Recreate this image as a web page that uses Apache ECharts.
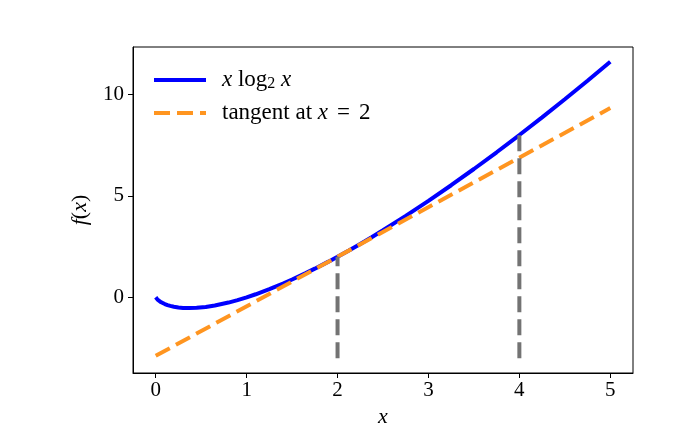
<!DOCTYPE html>
<html>
<head>
<meta charset="utf-8">
<script src="https://cdn.jsdelivr.net/npm/echarts@6/dist/echarts.min.js"></script>
<style>html,body{margin:0;padding:0;background:#fff;}#c{width:696px;height:442px;}</style>
</head>
<body>
<div id="c"></div>
<script>
// Curve x*log2(x), values
const curveX = [0, 0.01, 0.02, 0.04, 0.06, 0.08, 0.1, 0.13, 0.16, 0.2, 0.25, 0.3, 0.37, 0.45, 0.55, 0.65, 0.8, 0.9, 1.0, 1.1, 1.25, 1.4, 1.5, 1.65, 1.75, 1.9, 2.0, 2.125, 2.25, 2.375, 2.5, 2.75, 3.0, 3.25, 3.5, 3.75, 4.0, 4.25, 4.5, 4.75, 5.0];
const curveY = [0, -0.066, -0.113, -0.186, -0.244, -0.292, -0.332, -0.383, -0.423, -0.464, -0.500, -0.521, -0.531, -0.518, -0.474, -0.404, -0.258, -0.137, 0, 0.151, 0.402, 0.680, 0.877, 1.193, 1.413, 1.759, 2.0, 2.311, 2.632, 2.962, 3.305, 4.013, 4.755, 5.526, 6.326, 7.151, 8.0, 8.872, 9.765, 10.678, 11.610];
// Tangent line at x = 2
const tangentX = [0, 5];
const tangentY = [-2.885, 9.329];
// Vertical guide lines
const vlineX = [2, 4];
const vlineBottom = -3;
const vlineTop = [2, 8];
// Ticks
const xTicks = [0, 1, 2, 3, 4, 5];
const yTicks = [0, 5, 10];
const seriesNames = ['curve', 'tangent'];

const zip = (xs, ys) => xs.map((x, i) => [x, ys[i]]);
const FONT = 'Liberation Serif';
const blue = '#0000ff', orange = '#ff9520', gray = '#737373';
const LW = 4, DASH = [16, 7];

const chart = echarts.init(document.getElementById('c'), null, {renderer: 'canvas'});
const vSeries = vlineX.map((x, i) => ({
  type: 'line', name: 'v' + i, data: [[x, vlineBottom], [x, vlineTop[i]]],
  symbol: 'none', silent: true, z: 4,
  lineStyle: {color: gray, width: LW, type: DASH}
}));
chart.setOption({
  animation: false,
  grid: {left: 133, top: 47, right: 63, bottom: 69, show: true, borderColor: '#000', borderWidth: 1, backgroundColor: 'transparent'},
  xAxis: {
    type: 'value', min: -0.25, max: 5.25,
    name: 'x', nameLocation: 'middle', nameGap: 33,
    nameTextStyle: {fontFamily: FONT, fontStyle: 'italic', fontSize: 22, color: '#000'},
    axisLine: {show: true, onZero: false, lineStyle: {color: '#000', width: 1}},
    axisTick: {show: true, inside: false, length: 5, customValues: xTicks, lineStyle: {color: '#000'}},
    axisLabel: {customValues: xTicks, margin: 7, fontFamily: FONT, fontSize: 21, color: '#000'},
    splitLine: {show: false}
  },
  yAxis: {
    type: 'value', min: -3.73, max: 12.34,
    name: '{i|f}({i|x})', nameLocation: 'middle', nameGap: 42, nameRotate: 90,
    nameTextStyle: {fontFamily: FONT, fontSize: 22, color: '#000', rich: {i: {fontFamily: FONT, fontStyle: 'italic', fontSize: 22, color: '#000'}}},
    axisLine: {show: true, onZero: false, lineStyle: {color: '#000', width: 1}},
    axisTick: {show: true, inside: false, length: 5, customValues: yTicks, lineStyle: {color: '#000'}},
    axisLabel: {customValues: yTicks, margin: 9, fontFamily: FONT, fontSize: 21, color: '#000'},
    splitLine: {show: false}
  },
  legend: {
    data: seriesNames, orient: 'vertical', left: 147, top: 63,
    itemWidth: 52, itemHeight: 14, itemGap: 9,
    lineStyle: {width: LW},
    itemStyle: {opacity: 0},
    formatter: n => n === 'curve'
      ? '{g|}{i|x} log{s|2} {i|x}'
      : '{g|}tangent at {i|x}{m|}={m|}2',
    textStyle: {fontFamily: FONT, fontSize: 23, color: '#000', lineHeight: 24,
      rich: {
        g: {width: 11, lineHeight: 24},
        m: {width: 9, lineHeight: 24},
        i: {fontFamily: FONT, fontStyle: 'italic', fontSize: 23, color: '#000', lineHeight: 24},
        s: {fontFamily: FONT, fontSize: 16, color: '#000', lineHeight: 10, verticalAlign: 'bottom'}
      }}
  },
  series: [
    {type: 'line', name: 'curve', data: zip(curveX, curveY), symbol: 'none', smooth: false, z: 2,
     lineStyle: {color: blue, width: LW}, itemStyle: {color: blue}},
    {type: 'line', name: 'tangent', data: zip(tangentX, tangentY), symbol: 'none', z: 3,
     lineStyle: {color: orange, width: LW, type: DASH}, itemStyle: {color: orange}},
    ...vSeries
  ]
});
</script>
</body>
</html>
